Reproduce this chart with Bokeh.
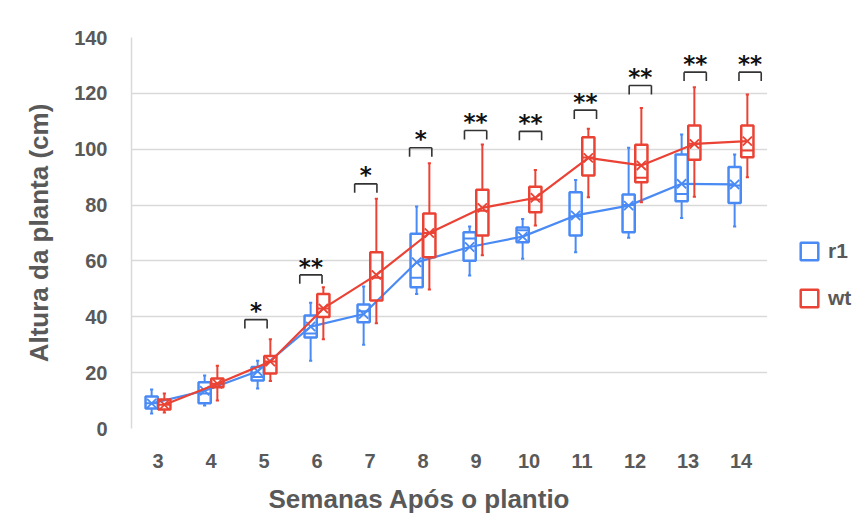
from bokeh.plotting import figure
from bokeh.models import Range1d, FixedTicker, Legend, LegendItem, ColumnDataSource, Title
from bokeh.layouts import row
from bokeh.embed import file_html
from bokeh.resources import INLINE
from bokeh.core.properties import value

# Weeks after planting
weeks = [3, 4, 5, 6, 7, 8, 9, 10, 11, 12, 13, 14]

# r1 plant height (cm): whisker ends, quartiles, median, mean
r1_min = [5.4, 8.2, 14.3, 24.3, 30.0, 48.2, 54.8, 60.8, 63.1, 68.3, 75.4, 72.3]
r1_q1 = [7.2, 9.0, 17.2, 32.6, 38.0, 50.6, 60.1, 66.7, 69.1, 70.3, 81.4, 80.7]
r1_median = [9.0, 12.5, 18.4, 34.0, 42.0, 54.0, 68.0, 71.0, 76.0, 80.0, 84.0, 87.0]
r1_q3 = [11.5, 16.6, 22.0, 40.5, 44.4, 69.7, 70.3, 72.0, 84.6, 83.8, 98.1, 93.6]
r1_max = [14.0, 19.0, 24.3, 45.0, 50.8, 79.5, 72.3, 75.0, 89.0, 100.5, 105.3, 98.1]
r1_mean = [9.0, 13.5, 20.5, 36.5, 41.0, 59.5, 65.0, 68.7, 76.3, 79.8, 87.6, 87.4]

# wt plant height (cm)
wt_min = [5.7, 10.0, 17.0, 32.0, 37.7, 49.8, 62.0, 72.7, 82.8, 81.0, 83.0, 90.0]
wt_q1 = [6.8, 14.8, 19.7, 39.9, 45.8, 61.3, 69.1, 77.4, 90.6, 88.2, 96.2, 97.1]
wt_median = [8.5, 16.0, 24.0, 43.0, 54.0, 70.0, 78.0, 82.0, 97.0, 89.8, 102.0, 99.5]
wt_q3 = [10.4, 17.9, 26.0, 48.2, 63.1, 77.0, 85.5, 86.6, 104.3, 101.6, 108.5, 108.5]
wt_max = [12.5, 22.5, 32.0, 50.6, 82.3, 95.0, 101.7, 92.6, 107.3, 114.8, 122.2, 119.6]
wt_mean = [8.5, 16.0, 24.0, 43.0, 55.0, 70.0, 79.0, 82.6, 96.9, 94.2, 101.9, 102.9]

# Significance marks (weeks 5-14) and the height of each bracket (cm)
sig_weeks = [5, 6, 7, 8, 9, 10, 11, 12, 13, 14]
sig_labels = ["*", "**", "*", "*", "**", "**", "**", "**", "**", "**"]
sig_level = [39.0, 55.0, 87.6, 100.5, 106.7, 106.4, 114.0, 122.8, 127.6, 127.6]

y_ticks = [0, 20, 40, 60, 80, 100, 120, 140]
series_names = ["r1", "wt"]

BLUE = "#4a8af4"
RED = "#ea4335"
GREY = "#595959"
FONT = "Liberation Sans"

p = figure(width=767, height=528, output_backend="svg", toolbar_location=None,
           x_range=Range1d(2.5, 14.5), y_range=Range1d(0, 140),
           min_border_left=131, min_border_right=0, min_border_top=37,
           min_border_bottom=100)
p.outline_line_color = None
p.background_fill_color = "white"
p.border_fill_color = "white"

# axes
p.xaxis.ticker = FixedTicker(ticks=weeks)
p.yaxis.ticker = FixedTicker(ticks=y_ticks)
for ax in (p.xaxis[0], p.yaxis[0]):
    ax.major_tick_line_color = None
    ax.minor_tick_line_color = None
    ax.major_label_text_font = FONT
    ax.major_label_text_font_style = "bold"
    ax.major_label_text_font_size = "20px"
    ax.major_label_text_color = GREY
    ax.axis_label_text_font = FONT
    ax.axis_label_text_font_style = "bold"
    ax.axis_label_text_font_size = "26px"
    ax.axis_label_text_color = GREY
p.xaxis.axis_line_color = None
p.yaxis.axis_line_color = "#d9d9d9"
p.yaxis.axis_line_width = 1.5
p.yaxis.axis_label = "Altura da planta (cm)"
p.xaxis.major_label_standoff = 19
p.yaxis.major_label_standoff = 18
p.yaxis.axis_label_standoff = 17

# x-axis title, set a little left of the frame centre
p.add_layout(Title(text="Semanas Após o plantio", align="left", offset=137, standoff=26,
                   vertical_align="top",
                   text_font=FONT, text_font_style="bold", text_font_size="26px",
                   text_color=GREY), "below")

p.xgrid.grid_line_color = None
p.ygrid.grid_line_color = "#d9d9d9"
p.ygrid.grid_line_width = 1.5

OFFSET = 0.12
HALF = 0.115
CAP = 0.03


def draw_series(lo, q1, med, q3, hi, mean, shift, color):
    xs = [w + shift for w in weeks]
    src = ColumnDataSource(dict(x=xs, left=[x - HALF for x in xs], right=[x + HALF for x in xs],
                                cl=[x - CAP for x in xs], cr=[x + CAP for x in xs],
                                lo=lo, q1=q1, med=med, q3=q3, hi=hi, mean=mean))
    p.segment(x0="x", y0="q3", x1="x", y1="hi", source=src, line_color=color, line_width=2)
    p.segment(x0="x", y0="q1", x1="x", y1="lo", source=src, line_color=color, line_width=2)
    p.segment(x0="cl", y0="hi", x1="cr", y1="hi", source=src, line_color=color, line_width=2)
    p.segment(x0="cl", y0="lo", x1="cr", y1="lo", source=src, line_color=color, line_width=2)
    p.quad(left="left", right="right", bottom="q1", top="q3", source=src,
           fill_color=None, line_color=color, line_width=2.5)
    p.segment(x0="left", y0="med", x1="right", y1="med", source=src, line_color=color, line_width=2)
    p.line(x="x", y="mean", source=src, line_color=color, line_width=2.2)
    p.scatter(x="x", y="mean", source=src, marker="x", size=13, line_color=color, line_width=1.8)


draw_series(r1_min, r1_q1, r1_median, r1_q3, r1_max, r1_mean, -OFFSET, BLUE)
draw_series(wt_min, wt_q1, wt_median, wt_q3, wt_max, wt_mean, OFFSET, RED)

# significance brackets
BR_HALF = 0.21
DROP = 3.2
bx = [w + (-8 + 1.9 * (w - 5)) / 53.0 for w in sig_weeks]
sig_src = ColumnDataSource(dict(
    xl=[x - BR_HALF for x in bx], xr=[x + BR_HALF for x in bx], x=bx,
    y=sig_level, yd=[v - DROP for v in sig_level], yt=[v + 3.0 for v in sig_level],
    label=sig_labels))
p.segment(x0="xl", y0="y", x1="xr", y1="y", source=sig_src, line_color="#333333", line_width=1.6)
p.segment(x0="xl", y0="y", x1="xl", y1="yd", source=sig_src, line_color="#333333", line_width=1.6)
p.segment(x0="xr", y0="y", x1="xr", y1="yd", source=sig_src, line_color="#333333", line_width=1.6)
p.text(x="x", y="yt", text="label", source=sig_src, text_align="center", text_baseline="middle",
       text_font=value("DejaVu Sans"), text_font_style="bold", text_font_size="23px",
       text_color="#111111")

# legend panel on the right
lg = figure(width=98, height=528, output_backend="svg", toolbar_location=None,
            x_range=Range1d(0, 1), y_range=Range1d(0, 1), min_border=0)
lg.outline_line_color = None
lg.axis.visible = False
lg.grid.visible = False
keys = []
for color in (BLUE, RED):
    keys.append(lg.quad(left=[-5], right=[-4], top=[-5], bottom=[-6], fill_color=None,
                        line_color=color, line_width=2.5))
legend = Legend(items=[LegendItem(label=n, renderers=[k]) for n, k in zip(series_names, keys)],
                location=(31, 118), glyph_width=22, glyph_height=22, label_standoff=8,
                spacing=23, padding=0, margin=0, border_line_color=None,
                background_fill_alpha=0, label_text_font=FONT, label_text_font_style="bold",
                label_text_font_size="21px", label_text_color=GREY)
lg.add_layout(legend, "center")

layout = row(p, lg)
open("out.html", "w").write(file_html(layout, INLINE))
